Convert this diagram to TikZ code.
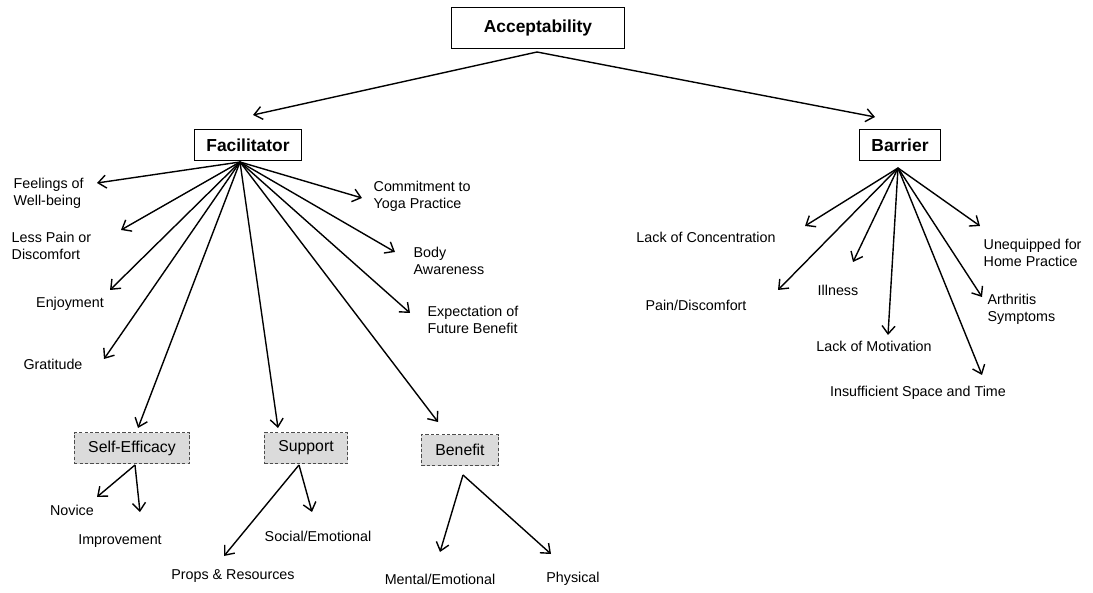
\documentclass[tikz,border=0pt]{standalone}
\usepackage{fontspec}
\setmainfont{Liberation Sans}
\usetikzlibrary{arrows.meta}

\begin{document}
\begin{tikzpicture}[x=0.5pt, y=-0.5pt, line width=0.7pt,
    >={Straight Barb[length=4pt,width=6.5pt]},
    topbox/.style={draw, inner xsep=6pt, minimum height=15.5pt, font=\fontsize{8.7}{10}\selectfont\bfseries},
    subbox/.style={draw=black!70, dashed, dash pattern=on 1.6pt off 1.1pt, fill=black!14, inner xsep=7pt, minimum height=15.5pt, font=\fontsize{7.9}{9}\selectfont},
    lbl/.style={inner sep=0pt, align=left, font=\fontsize{7.15}{8.5}\selectfont}]
            \useasboundingbox (0,0) rectangle (1093,593);

            \node[topbox, minimum width=86.5pt, minimum height=20.5pt] (acc) at (538,28) {Acceptability};
            \node[topbox] (fac) at (248,145) {Facilitator};
            \node[topbox] (bar) at (900,145) {Barrier};

            \coordinate (accO) at (537,52);
            \coordinate (facT) at (253,115);
            \coordinate (barT) at (875,117);
            \draw[->] (accO) -- (facT);
            \draw[->] (accO) -- (barT);

            \node[lbl, anchor=west] (feel) at (13,193) {Feelings of\\Well-being};
            \node[lbl, anchor=west] (lesspain) at (11,246) {Less Pain or\\Discomfort};
            \node[lbl] (enjoy) at (70,304) {Enjoyment};
            \node[lbl] (grat) at (53,364) {Gratitude};
            \node[lbl, anchor=west] (commit) at (373,196) {Commitment to\\Yoga Practice};
            \node[lbl, anchor=west] (body) at (413,261) {Body\\Awareness};
            \node[lbl, anchor=west] (expect) at (427,320) {Expectation of\\Future Benefit};
            \node[subbox] (selfeff) at (132,448) {Self-Efficacy};
            \node[subbox] (support) at (306,448) {Support};
            \node[subbox] (benefit) at (460,450) {Benefit};

            \coordinate (facO) at (240,162);
            \coordinate (feelT) at (97,183);
            \coordinate (lesspainT) at (121,230);
            \coordinate (enjoyT) at (110,290);
            \coordinate (gratT) at (104,359);
            \coordinate (selfeffT) at (138,428);
            \coordinate (supportT) at (278,428);
            \coordinate (benefitT) at (438,422);
            \coordinate (commitT) at (362,198);
            \coordinate (bodyT) at (395,252);
            \coordinate (expectT) at (410,313);
            \draw[->] (facO) -- (feelT);
            \draw[->] (facO) -- (lesspainT);
            \draw[->] (facO) -- (enjoyT);
            \draw[->] (facO) -- (gratT);
            \draw[->] (facO) -- (selfeffT);
            \draw[->] (facO) -- (supportT);
            \draw[->] (facO) -- (benefitT);
            \draw[->] (facO) -- (commitT);
            \draw[->] (facO) -- (bodyT);
            \draw[->] (facO) -- (expectT);

            \node[lbl] (novice) at (72,510) {Novice};
            \node[lbl] (improve) at (120,541) {Improvement};
            \node[lbl] (props) at (233,576) {Props \& Resources};
            \node[lbl] (social) at (318,536) {Social/Emotional};
            \node[lbl] (mental) at (440,579) {Mental/Emotional};
            \node[lbl] (physical) at (573,579) {Physical};

            \coordinate (seO) at (135,465);
            \coordinate (suO) at (299,465);
            \coordinate (beO) at (463,475);
            \coordinate (noviceT) at (97,497);
            \coordinate (improveT) at (140,512);
            \coordinate (propsT) at (224,556);
            \coordinate (socialT) at (312,512);
            \coordinate (mentalT) at (440,552);
            \coordinate (physicalT) at (551,554);
            \draw[->] (seO) -- (noviceT);
            \draw[->] (seO) -- (improveT);
            \draw[->] (suO) -- (propsT);
            \draw[->] (suO) -- (socialT);
            \draw[->] (beO) -- (mentalT);
            \draw[->] (beO) -- (physicalT);

            \node[lbl] (conc) at (706,237) {Lack of Concentration};
            \node[lbl] (painb) at (696,305) {Pain/Discomfort};
            \node[lbl] (ill) at (838,290) {Illness};
            \node[lbl] (motiv) at (874,346) {Lack of Motivation};
            \node[lbl] (space) at (918,393) {Insufficient Space and Time};
            \node[lbl, anchor=west] (unequip) at (983,253) {Unequipped for\\Home Practice};
            \node[lbl, anchor=west] (arth) at (987,309) {Arthritis\\Symptoms};

            \coordinate (barO) at (898,168);
            \coordinate (concT) at (805,226);
            \coordinate (painbT) at (778,290);
            \coordinate (illT) at (853,262);
            \coordinate (motivT) at (888,335);
            \coordinate (spaceT) at (982,375);
            \coordinate (unequipT) at (980,226);
            \coordinate (arthT) at (982,297);
            \draw[->] (barO) -- (concT);
            \draw[->] (barO) -- (painbT);
            \draw[->] (barO) -- (illT);
            \draw[->] (barO) -- (motivT);
            \draw[->] (barO) -- (spaceT);
            \draw[->] (barO) -- (unequipT);
            \draw[->] (barO) -- (arthT);
        \end{tikzpicture}
\end{document}
